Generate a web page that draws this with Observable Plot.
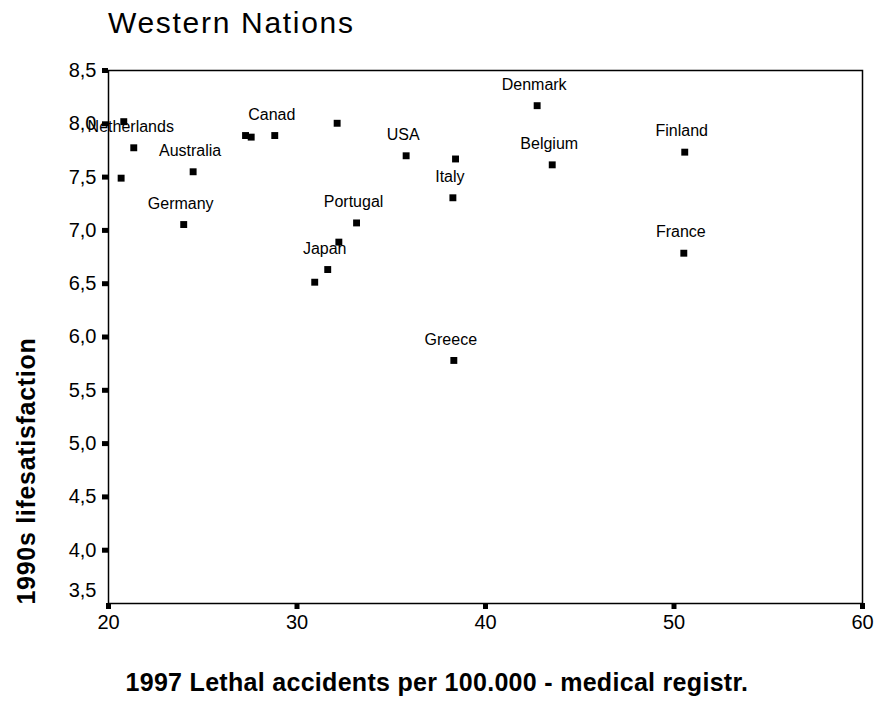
<!DOCTYPE html>
<html>
<head>
<meta charset="utf-8">
<script src="https://cdn.jsdelivr.net/npm/d3@7"></script>
<script src="https://cdn.jsdelivr.net/npm/@observablehq/plot@0.6"></script>
<style>
  body { margin: 0; background: #fff; font-family: "Liberation Sans", Arial, sans-serif; }
  #wrap { position: relative; width: 878px; height: 708px; }
  #title { position: absolute; left: 108px; top: 8px; font-size: 30px; line-height: 30px; letter-spacing: 1.7px; color: #000; }
  #wrap svg { position: absolute; left: 0; top: 0; }
</style>
</head>
<body>
<div id="wrap"><div id="title">Western Nations</div></div>
<script>
// Data
const countries = ["", "Netherlands", "", "Australia", "Germany", "", "", "Canad", "", "Portugal", "", "Japan", "", "Denmark", "USA", "", "Belgium", "Italy", "Greece", "Finland", "France"];
const accidents = [20.81, 21.34, 20.67, 24.49, 23.99, 27.27, 27.57, 28.82, 32.13, 33.16, 32.22, 31.63, 30.94, 42.74, 35.79, 38.41, 43.54, 38.27, 38.32, 50.57, 50.52];
const satisfaction = [8.02, 7.775, 7.49, 7.55, 7.055, 7.89, 7.875, 7.89, 8.005, 7.07, 6.89, 6.633, 6.514, 8.17, 7.70, 7.67, 7.615, 7.306, 5.78, 7.734, 6.786];
const xTicks = [20, 30, 40, 50, 60];
const yTicks = [4.0, 4.5, 5.0, 5.5, 6.0, 6.5, 7.0, 7.5, 8.0, 8.5];
const yTickBottom = [3.5];
const xTitle = "1997 Lethal accidents per 100.000 - medical registr.";
const yTitle = "1990s lifesatisfaction";

const data = countries.map((c, i) => ({ name: c, x: accidents[i], y: satisfaction[i] }));
const fmt = d => d3.format(".1f")(d).replace(".", ",");

const chart = Plot.plot({
  width: 878,
  height: 708,
  marginTop: 70,
  marginBottom: 105,
  marginLeft: 108,
  marginRight: 16,
  style: { fontFamily: "'Liberation Sans', Arial, sans-serif", background: "#fff", color: "#000" },
  x: { domain: [20, 60] },
  y: { domain: [3.5, 8.5] },
  marks: [
    Plot.frame({ stroke: "#000", strokeWidth: 1.5 }),
    Plot.axisX({ ticks: xTicks, tickSize: 6, strokeWidth: 5, tickPadding: 5, fontSize: 20, label: null, tickFormat: d => String(d) }),
    Plot.axisY({ ticks: yTicks, tickSize: 6, strokeWidth: 5, tickPadding: 6, fontSize: 20, label: null, tickFormat: fmt }),
    Plot.axisY({ ticks: yTickBottom, tickSize: 0, tickPadding: 12, fontSize: 20, label: null, tickFormat: fmt, dy: -13 }),
    Plot.dot(data, { x: "x", y: "y", symbol: "square", r: 3.9, fill: "#000", stroke: null }),
    Plot.text(data.filter(d => d.name), { x: "x", y: "y", text: "name", dy: -21, dx: -3, fontSize: 16, fill: "#000" }),
    Plot.text([xTitle], { frameAnchor: "bottom-left", textAnchor: "start", dx: 17, dy: 87, fontSize: 25, fontWeight: "bold", fill: "#000", style: "letter-spacing:0.3px" }),
    Plot.text([yTitle], { frameAnchor: "bottom-left", textAnchor: "start", rotate: -90, dx: -74, dy: 1, fontSize: 25, fontWeight: "bold", fill: "#000" })
  ]
});
document.getElementById("wrap").prepend(chart);
// letter spacing for the axis titles
chart.querySelectorAll("text").forEach(t => {
  if (t.textContent === xTitle) t.setAttribute("letter-spacing", "0.3");
  if (t.textContent === yTitle) t.setAttribute("letter-spacing", "0.7");
});
</script>
</body>
</html>
